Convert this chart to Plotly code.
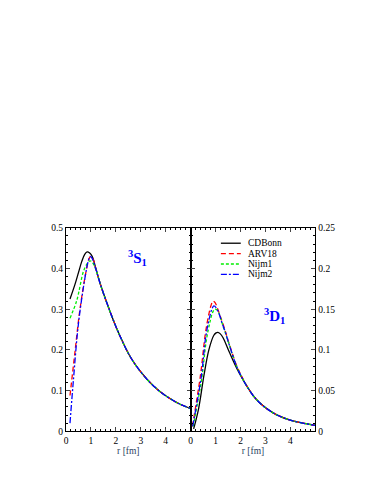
import plotly.graph_objects as go

# ---- 3S1 channel (left panel) ----
r_s_cdbonn = [0.16, 0.36, 0.5, 0.63, 0.75, 0.85, 0.95, 1.05, 1.2, 1.36, 1.63, 1.9, 2.16, 2.56, 2.96, 3.5, 4.03, 4.56, 5.0]
s_cdbonn = [0.325, 0.361, 0.39, 0.417, 0.435, 0.441, 0.438, 0.43, 0.4, 0.365, 0.317, 0.273, 0.235, 0.185, 0.149, 0.112, 0.086, 0.067, 0.056]

r_s_arv18 = [0.16, 0.36, 0.56, 0.83, 0.93, 1.0, 1.1, 1.2, 1.36, 1.63, 1.9, 2.16, 2.56, 2.96, 3.5, 4.03, 4.56, 5.0]
s_arv18 = [0.088, 0.195, 0.3, 0.401, 0.425, 0.43, 0.421, 0.398, 0.365, 0.317, 0.273, 0.235, 0.185, 0.149, 0.112, 0.086, 0.067, 0.056]

r_s_nijm1 = [0.16, 0.43, 0.7, 0.85, 0.96, 1.06, 1.2, 1.36, 1.63, 1.9, 2.16, 2.56, 2.96, 3.5, 4.03, 4.56, 5.0]
s_nijm1 = [0.278, 0.321, 0.393, 0.412, 0.419, 0.415, 0.397, 0.365, 0.317, 0.273, 0.235, 0.185, 0.149, 0.112, 0.086, 0.067, 0.056]

r_s_nijm2 = [0.16, 0.3, 0.5, 0.76, 0.9, 0.97, 1.05, 1.2, 1.36, 1.63, 1.9, 2.16, 2.56, 2.96, 3.5, 4.03, 4.56, 5.0]
s_nijm2 = [0.02, 0.128, 0.265, 0.377, 0.42, 0.43, 0.425, 0.398, 0.365, 0.317, 0.273, 0.235, 0.185, 0.149, 0.112, 0.086, 0.067, 0.056]

# ---- 3D1 channel (right panel) ----
r_d_cdbonn = [0.12, 0.32, 0.53, 0.73, 0.93, 1.02, 1.09, 1.18, 1.3, 1.54, 1.94, 2.61, 3.29, 3.96, 4.63, 5.0]
d_cdbonn = [0.003, 0.028, 0.068, 0.1, 0.118, 0.121, 0.1216, 0.12, 0.115, 0.098, 0.072, 0.04, 0.023, 0.014, 0.0093, 0.0072]

r_d_arv18 = [0.07, 0.39, 0.59, 0.73, 0.82, 0.9, 0.98, 1.1, 1.25, 1.4, 1.54, 1.94, 2.61, 3.29, 3.96, 4.63, 5.0]
d_arv18 = [0.006, 0.068, 0.12, 0.144, 0.155, 0.16, 0.158, 0.149, 0.136, 0.122, 0.108, 0.074, 0.04, 0.023, 0.014, 0.0093, 0.0072]

r_d_nijm1 = [0.1, 0.45, 0.62, 0.78, 0.88, 0.97, 1.06, 1.15, 1.27, 1.4, 1.54, 1.94, 2.61, 3.29, 3.96, 4.63, 5.0]
d_nijm1 = [0.006, 0.066, 0.11, 0.135, 0.146, 0.15, 0.149, 0.144, 0.132, 0.12, 0.107, 0.073, 0.04, 0.023, 0.014, 0.0093, 0.0072]

r_d_nijm2 = [0.08, 0.43, 0.6, 0.75, 0.85, 0.93, 1.02, 1.12, 1.25, 1.4, 1.54, 1.94, 2.61, 3.29, 3.96, 4.63, 5.0]
d_nijm2 = [0.006, 0.068, 0.115, 0.139, 0.15, 0.154, 0.152, 0.146, 0.134, 0.121, 0.107, 0.073, 0.04, 0.023, 0.014, 0.0093, 0.0072]

r_ticks = [0, 1, 2, 3, 4]

models = [
    ("CDBonn", "black", "solid", r_s_cdbonn, s_cdbonn, r_d_cdbonn, d_cdbonn),
    ("ARV18", "red", "5px,3px", r_s_arv18, s_arv18, r_d_arv18, d_arv18),
    ("Nijm1", "#00ee00", "3px,2px", r_s_nijm1, s_nijm1, r_d_nijm1, d_nijm1),
    ("Nijm2", "blue", "6px,2px,2px,2px", r_s_nijm2, s_nijm2, r_d_nijm2, d_nijm2),
]

FONT = "Liberation Serif"
W, H = 379, 491
OFF = 8  # page body margin


def px(x):
    return (x - OFF) / W


def py(y):
    return 1 - (y - OFF) / H


fig = go.Figure()
for name, color, dash, rs, s, rd, d in models:
    line = dict(color=color, dash=dash, width=1.3, shape="spline", smoothing=1)
    fig.add_trace(go.Scatter(x=rs, y=s, mode="lines", name=name, line=line,
                             xaxis="x", yaxis="y", showlegend=False))
    fig.add_trace(go.Scatter(x=rd, y=d, mode="lines", name=name, line=line,
                             xaxis="x2", yaxis="y2", showlegend=False))

# hand-drawn legend (rows are tighter than plotly's legend allows)
shapes, annotations = [], []
for i, (name, color, dash, *_rest) in enumerate(models):
    yy = 243 + i * 10.6
    shapes.append(dict(type="line", xref="paper", yref="paper",
                       x0=px(220), x1=px(240), y0=py(yy), y1=py(yy),
                       line=dict(color=color, dash=dash, width=1.3)))
    annotations.append(dict(text=name, x=px(245), y=py(yy), xref="paper", yref="paper",
                            xanchor="left", yanchor="middle", showarrow=False,
                            font=dict(size=9.5, family=FONT, color="black")))

annotations += [
    dict(text="<b><sup>3</sup>S<sub>1</sub></b>", x=px(136), y=py(258),
         xref="paper", yref="paper", xanchor="center", yanchor="middle",
         showarrow=False, font=dict(size=15, family=FONT, color="blue")),
    dict(text="<b><sup>3</sup>D<sub>1</sub></b>", x=px(274), y=py(317),
         xref="paper", yref="paper", xanchor="center", yanchor="middle",
         showarrow=False, font=dict(size=15, family=FONT, color="blue")),
]

common_x = dict(range=[0, 5], tickvals=r_ticks, ticks="inside", ticklen=4,
                showline=True, linecolor="black", linewidth=1, mirror="ticks",
                showgrid=False, zeroline=False,
                minor=dict(ticks="inside", dtick=0.2, ticklen=2, tickcolor="black"),
                title=dict(text="r [fm]", font=dict(size=9.5, family=FONT), standoff=0),
                tickfont=dict(size=9.5, family=FONT, color="black"))
common_y = dict(ticks="inside", ticklen=4, showline=True, linecolor="black",
                linewidth=1, mirror="ticks", showgrid=False, zeroline=False,
                tickfont=dict(size=9.5, family=FONT, color="black"))

fig.update_layout(
    width=W, height=H,
    margin=dict(l=0, r=0, t=0, b=0),
    paper_bgcolor="white", plot_bgcolor="white",
    showlegend=False,
    xaxis=dict(domain=[px(64.3), px(189.6)], anchor="y", **common_x),
    xaxis2=dict(domain=[px(189.6), px(315)], anchor="y2", **common_x),
    yaxis=dict(domain=[py(435), py(227.3)], anchor="x", range=[0, 0.5], dtick=0.1,
               minor=dict(ticks="inside", dtick=0.02, ticklen=2, tickcolor="black"),
               **common_y),
    yaxis2=dict(domain=[py(435), py(227.3)], anchor="x2", range=[0, 0.25], dtick=0.05,
                side="right",
                minor=dict(ticks="inside", dtick=0.01, ticklen=2, tickcolor="black"),
                **common_y),
    shapes=shapes,
    annotations=annotations,
)

fig.write_html("out.html")
